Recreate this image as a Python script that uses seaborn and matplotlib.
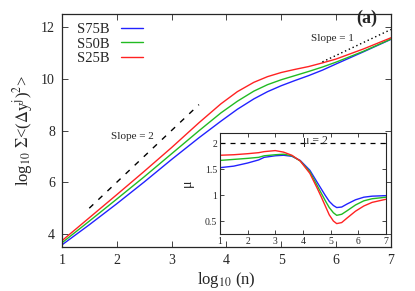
import pandas as pd
import seaborn as sns
import matplotlib.pyplot as plt

# main panel: log10 Σ<(Δy^j)^2> vs log10(n)
logn = [1, 1.5, 2, 2.5, 3, 3.5, 3.9, 4.2, 4.5, 4.75, 5, 5.25, 5.5, 5.75, 6, 6.5, 7]
s75b = [3.58, 4.36, 5.17, 6.01, 6.88, 7.72, 8.36, 8.82, 9.22, 9.50, 9.73, 9.93, 10.12, 10.33, 10.57, 11.04, 11.52]
s50b = [3.66, 4.50, 5.35, 6.21, 7.10, 7.99, 8.68, 9.13, 9.52, 9.77, 9.96, 10.12, 10.28, 10.45, 10.64, 11.06, 11.53]
s25b = [3.74, 4.63, 5.52, 6.42, 7.34, 8.30, 9.03, 9.50, 9.86, 10.08, 10.24, 10.36, 10.47, 10.61, 10.76, 11.15, 11.58]

# inset: local exponent mu
logn_mu = [1, 1.5, 2, 2.4, 2.6, 3, 3.3, 3.6, 3.9, 4.25, 4.5, 4.65, 4.8, 4.95, 5.1, 5.22, 5.4, 5.6, 5.9, 6.2, 6.5, 7]
mu_s75b = [1.53, 1.56, 1.62, 1.68, 1.73, 1.76, 1.77, 1.75, 1.67, 1.48, 1.26, 1.13, 1.00, 0.88, 0.80, 0.76, 0.77, 0.83, 0.91, 0.96, 0.98, 0.99]
mu_s50b = [1.67, 1.69, 1.71, 1.73, 1.76, 1.78, 1.79, 1.76, 1.66, 1.45, 1.20, 1.05, 0.90, 0.76, 0.66, 0.61, 0.63, 0.70, 0.81, 0.89, 0.93, 0.96]
mu_s25b = [1.77, 1.78, 1.80, 1.82, 1.84, 1.86, 1.83, 1.77, 1.66, 1.42, 1.15, 0.98, 0.80, 0.62, 0.50, 0.45, 0.47, 0.56, 0.69, 0.79, 0.86, 0.92]

names = ['S75B', 'S50B', 'S25B']
colors = ['#2222ff', '#22bb22', '#ff2222']

df = pd.DataFrame({'x': logn * 3, 'y': s75b + s50b + s25b,
                   'sample': [n for n in names for _ in logn]})
dmu = pd.DataFrame({'x': logn_mu * 3, 'y': mu_s75b + mu_s50b + mu_s25b,
                    'sample': [n for n in names for _ in logn_mu]})

sns.set_style('ticks')
plt.rcParams['font.family'] = ['Liberation Serif', 'DejaVu Serif']
plt.rcParams['mathtext.fontset'] = 'stix'

fig = plt.figure(figsize=(4.15, 2.91), dpi=100)
ax = fig.add_axes([0.149, 0.151, 0.793, 0.801])
sns.lineplot(data=df, x='x', y='y', hue='sample', palette=colors, lw=1, ax=ax)
ax.plot([1.5, 3.5], [5.0, 9.0], color='black', ls=(0, (4, 5)), lw=1)
ax.plot([5.75, 7.0], [10.65, 11.9], color='black', ls=(0, (1, 2)), lw=1)
ax.text(1.9, 7.75, 'Slope = 2', fontsize=8, va='center')
ax.text(5.55, 11.57, 'Slope = 1', fontsize=8, va='center')
ax.text(6.36, 12.33, '(a)', fontsize=13, fontweight='bold', va='center')
ax.set_xlim(1, 7)
ax.set_ylim(3.5, 12.5)
ax.set_xticks(range(1, 8))
ax.set_yticks([4, 6, 8, 10, 12])
ax.tick_params(direction='in', top=True, right=True, labelsize=10, length=4, width=0.6, pad=5)
ax.set_xlabel(r'log$_{10}$ (n)', fontsize=12, labelpad=2)
ax.set_ylabel(r'log$_{10}$ $\Sigma$<($\Delta$y$^{\rm j}$)$^{2}$>', fontsize=12, labelpad=4)
for s in ax.spines.values():
    s.set_linewidth(0.9)
ax.legend(loc='upper left', frameon=False, markerfirst=False, fontsize=10.5,
          handlelength=1.5, handletextpad=0.8, labelspacing=0.1,
          borderaxespad=0.2, bbox_to_anchor=(0.018, 1.0))

ins = fig.add_axes([0.530, 0.196, 0.400, 0.347])
sns.lineplot(data=dmu, x='x', y='y', hue='sample', palette=colors, lw=1, ax=ins, legend=False)
ins.axhline(2, color='black', ls=(0, (4, 4)), lw=0.9)
ins.text(4.45, 2.05, 'μ = 2', fontsize=8.5, ha='center', va='center')
ins.set_xlim(1, 7)
ins.set_ylim(0.25, 2.2)
ins.set_xticks(range(1, 8))
ins.set_yticks([0.5, 1, 1.5, 2])
ins.set_yticklabels(['0.5', '1', '1.5', '2'])
ins.tick_params(direction='in', top=True, right=True, labelsize=7, length=3, width=0.6, pad=2)
ins.set_xlabel('')
ins.set_ylabel('μ', fontsize=10, labelpad=8)
for s in ins.spines.values():
    s.set_linewidth(0.8)

fig.savefig('out.png', dpi=100)
